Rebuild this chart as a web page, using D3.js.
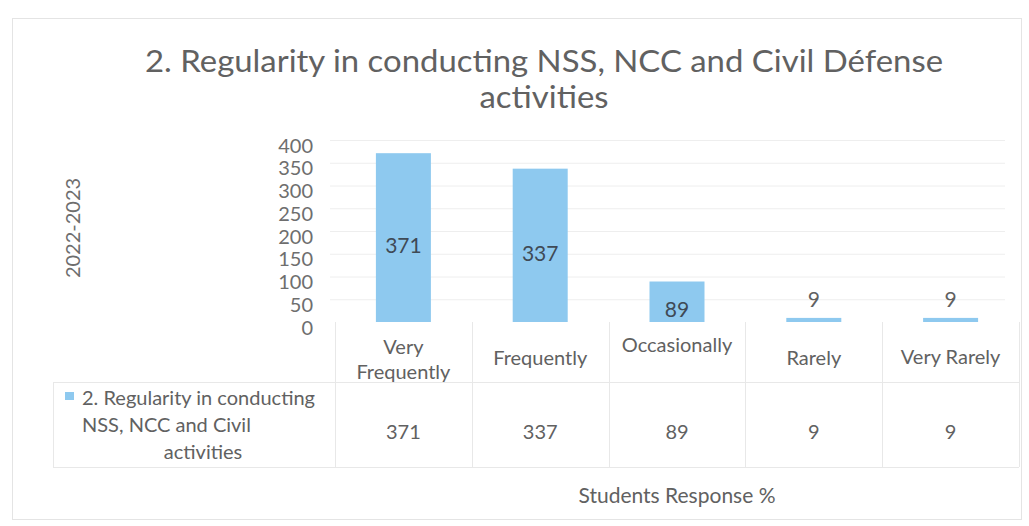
<!DOCTYPE html>
<html><head><meta charset="utf-8">
<script src="https://cdn.jsdelivr.net/npm/d3@7"></script>
<style>html,body{margin:0;padding:0;background:#fff;}svg{display:block;}</style>
</head><body>
<svg id="c" width="1029" height="526"></svg>
<script>
const categories = ["Very Frequently", "Frequently", "Occasionally", "Rarely", "Very Rarely"];
const categoryLines = [["Very", "Frequently"], ["Frequently"], ["Occasionally"], ["Rarely"], ["Very Rarely"]];
const values = [371, 337, 89, 9, 9];
const yTicks = [0, 50, 100, 150, 200, 250, 300, 350, 400];
const titleLines = ["2. Regularity in conducting NSS, NCC and Civil Défense", "activities"];
const seriesName = ["2. Regularity in conducting", "NSS, NCC and Civil", "activities"];
const yTitle = "2022-2023";
const xTitle = "Students Response %";

const FONT = "Lato, 'Open Sans', sans-serif";
const TXT = "#616161";
const BAR = "#8ec9ef";
const svg = d3.select("#c");

// outer frame
svg.append("rect").attr("x", 12.5).attr("y", 18.5).attr("width", 1009).attr("height", 501)
  .attr("fill", "#fff").attr("stroke", "#e4e4e4");

// title (condensed to mimic a narrow face)
const t1 = svg.append("text").attr("x", 544).attr("y", 72).attr("text-anchor", "middle")
  .attr("font-family", FONT).attr("font-size", 31).attr("fill", TXT).text(titleLines[0]);
const t2 = svg.append("text").attr("x", 544).attr("y", 108).attr("text-anchor", "middle")
  .attr("font-family", FONT).attr("font-size", 31).attr("fill", TXT).text(titleLines[1]);
const ratio = 798 / t1.node().getComputedTextLength();
t1.attr("textLength", 798).attr("lengthAdjust", "spacingAndGlyphs");
t2.attr("textLength", t2.node().getComputedTextLength() * ratio).attr("lengthAdjust", "spacingAndGlyphs");

// scales
const plotLeft = 335, plotRight = 1019;
const x = d3.scaleBand().domain(categories).range([plotLeft, plotRight]).paddingInner(0).paddingOuter(0);
const y = d3.scaleLinear().domain([0, 400]).range([322, 140]);

// gridlines
svg.append("g").selectAll("line").data(yTicks.slice(1)).join("line")
  .attr("x1", plotLeft - 5).attr("x2", 1005)
  .attr("y1", d => y(d) + 0.5).attr("y2", d => y(d) + 0.5)
  .attr("stroke", "#eeeeee").attr("stroke-width", 1);

// y axis
const yAxis = svg.append("g").attr("transform", `translate(313,0)`)
  .call(d3.axisLeft(y).tickValues(yTicks).tickSize(0).tickPadding(0));
yAxis.select(".domain").remove();
yAxis.selectAll("text").attr("font-family", FONT).attr("font-size", 20).attr("fill", "#6e6e6e")
  .attr("text-anchor", "end").attr("dy", "0.6em");

// bars
const bw = 55;
svg.append("g").selectAll("rect").data(values).join("rect")
  .attr("x", (d, i) => x(categories[i]) + x.bandwidth() / 2 - bw / 2)
  .attr("y", d => y(d))
  .attr("width", bw)
  .attr("height", d => y(0) - y(d))
  .attr("fill", BAR);

// data labels
svg.append("g").selectAll("text").data(values).join("text")
  .attr("x", (d, i) => x(categories[i]) + x.bandwidth() / 2)
  .attr("y", d => d > 50 ? (y(d) + y(0)) / 2 + 8 : y(d) - 18)
  .attr("dy", "0.35em")
  .attr("text-anchor", "middle").attr("font-family", FONT).attr("font-size", 21)
  .attr("fill", d => d > 50 ? "#3f4a56" : "#616161")
  .text(d => d);

// table lines
const tbl = svg.append("g").attr("stroke", "#e8e8e8").attr("stroke-width", 1);
const tableTop = 322, rowSplit = 382, tableBottom = 467, tableLeft = 53;
const bounds = categories.map(c => x(c)).concat([plotRight]);
tbl.selectAll("line.v").data(bounds).join("line")
  .attr("x1", d => Math.round(d) + 0.5).attr("x2", d => Math.round(d) + 0.5)
  .attr("y1", tableTop).attr("y2", tableBottom);
tbl.append("line").attr("x1", tableLeft).attr("x2", plotRight).attr("y1", rowSplit + 0.5).attr("y2", rowSplit + 0.5);
tbl.append("line").attr("x1", tableLeft).attr("x2", plotRight).attr("y1", tableBottom + 0.5).attr("y2", tableBottom + 0.5);
tbl.append("line").attr("x1", tableLeft + 0.5).attr("x2", tableLeft + 0.5).attr("y1", rowSplit).attr("y2", tableBottom);

// category labels
const catY = [[347, 372], [358], [345], [358], [357]];
const catG = svg.append("g");
categoryLines.forEach((lines, i) => {
  const cx = x(categories[i]) + x.bandwidth() / 2;
  lines.forEach((ln, j) => {
    catG.append("text").attr("x", cx).attr("y", catY[i][j]).attr("dy", "0.35em")
      .attr("text-anchor", "middle").attr("font-family", FONT).attr("font-size", 20)
      .attr("fill", TXT).text(ln);
  });
});

// legend key + series name
svg.append("rect").attr("x", 65).attr("y", 392).attr("width", 9).attr("height", 8).attr("fill", BAR);
const sn = svg.append("g").attr("font-family", FONT).attr("font-size", 20).attr("fill", TXT);
sn.append("text").attr("x", 82).attr("y", 398).attr("dy", "0.35em").text(seriesName[0]);
sn.append("text").attr("x", 82).attr("y", 425).attr("dy", "0.35em").text(seriesName[1]);
sn.append("text").attr("x", 203).attr("y", 452).attr("dy", "0.35em").attr("text-anchor", "middle").text(seriesName[2]);

// value row
svg.append("g").selectAll("text").data(values).join("text")
  .attr("x", (d, i) => x(categories[i]) + x.bandwidth() / 2)
  .attr("y", 432).attr("dy", "0.35em").attr("text-anchor", "middle")
  .attr("font-family", FONT).attr("font-size", 20).attr("fill", TXT).text(d => d);

// axis titles
svg.append("text").attr("x", 677).attr("y", 496).attr("dy", "0.35em").attr("text-anchor", "middle")
  .attr("font-family", FONT).attr("font-size", 21).attr("fill", TXT).text(xTitle);
svg.append("text").attr("transform", "translate(73,228) rotate(-90)").attr("dy", "0.35em")
  .attr("text-anchor", "middle").attr("font-family", FONT).attr("font-size", 20)
  .attr("fill", "#6e6e6e").text(yTitle);
</script>
</body></html>
